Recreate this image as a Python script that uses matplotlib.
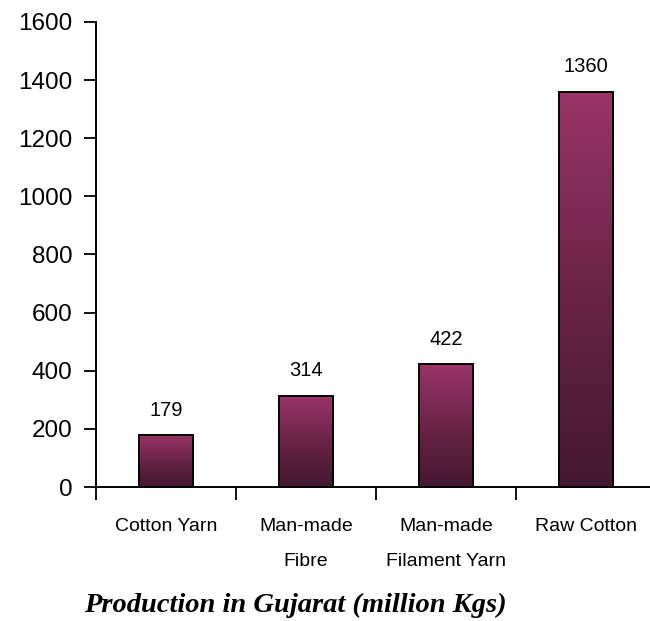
import matplotlib
matplotlib.use("Agg")
import matplotlib.pyplot as plt
import numpy as np
from matplotlib.colors import LinearSegmentedColormap

categories = ["Cotton Yarn", "Man-made\nFibre", "Man-made\nFilament Yarn", "Raw Cotton"]
values = [179, 314, 422, 1360]
yticks = [0, 200, 400, 600, 800, 1000, 1200, 1400, 1600]
title = "Production in Gujarat (million Kgs)"

TOP, BOTTOM = "#9a3467", "#441830"
grad = LinearSegmentedColormap.from_list("bar", [BOTTOM, "#6a2447", TOP])
SANS = ["Liberation Sans", "DejaVu Sans"]

fig = plt.figure(figsize=(6.5, 6.21), dpi=100)
ax = fig.add_axes([96 / 650, 134 / 621, 560 / 650, 465 / 621])

x = np.arange(len(values))
bars = ax.bar(x, values, width=0.39, color="none", edgecolor="black", linewidth=1.4, zorder=3)
g = np.linspace(0, 1, 256).reshape(-1, 1)
for b in bars:
    x0, y0 = b.get_x(), b.get_y()
    w, h = b.get_width(), b.get_height()
    im = ax.imshow(g, cmap=grad, origin="lower", aspect="auto",
                   extent=[x0, x0 + w, y0, y0 + h], zorder=2)
    im.set_clip_path(b)
    ax.annotate(f"{b.get_height():.0f}", (x0 + w / 2, y0 + h), xytext=(0, 11),
                textcoords="offset points", ha="center", va="bottom",
                fontsize=14.5, family=SANS)

ax.set_xlim(-0.5, 3.5)
ax.set_ylim(0, 1600)
ax.set_yticks(yticks)
ax.set_yticklabels([str(v) for v in yticks], fontsize=17.5, family=SANS)
ax.tick_params(axis="y", length=9, width=1.3, pad=8)

ax.set_xticks(np.arange(-0.5, 3.6, 1.0))
ax.set_xticklabels([])
ax.tick_params(axis="x", which="major", length=9, width=1.3, direction="out")
ax.set_xticks(x, minor=True)
ax.set_xticklabels(categories, minor=True, fontsize=14, family=SANS, linespacing=2.45)
ax.tick_params(axis="x", which="minor", length=0, pad=22)
for t in ax.xaxis.get_minor_ticks():
    t.label1.set_verticalalignment("top")

for s in ("top", "right"):
    ax.spines[s].set_visible(False)
for s in ("left", "bottom"):
    ax.spines[s].set_linewidth(1.4)

fig.text(295 / 650, 9 / 621, title, ha="center", va="baseline", fontsize=20.5,
         family="Liberation Serif", weight="bold", style="italic")

fig.savefig("out.png", dpi=100)
